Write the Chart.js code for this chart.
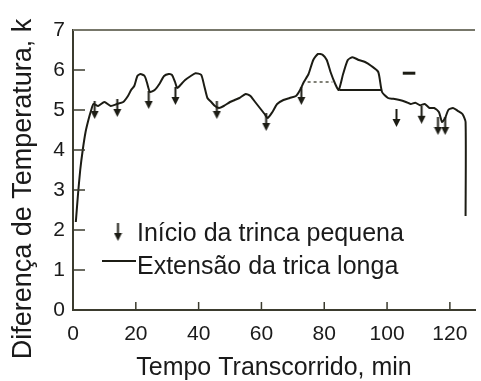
<!DOCTYPE html>
<html>
<head>
<meta charset="utf-8">
<title>Diferença de Temperatura</title>
<script src="https://cdn.jsdelivr.net/npm/chart.js@4.4.0/dist/chart.umd.min.js"></script>
<style>
  html, body { margin: 0; padding: 0; background: #fff; }
  canvas { display: block; }
</style>
</head>
<body>
<canvas id="myChart" width="481" height="381"></canvas>
<script>
// main temperature-difference trace (min, K)
var timeMin = [0.9, 1.6, 2.3, 3.1, 4.0, 4.9, 5.8, 6.5, 8, 10, 12, 14, 16, 17.5, 18.5, 19.5, 20.5, 21.5, 22.8, 23.5, 24.5,
    26, 27.5, 29, 30.5, 31.5, 32.5, 33.2, 34.5, 35.7, 37.5, 39, 40.8, 41.8, 42.8, 44, 45.2, 46.5, 48, 50, 51.5,
    53, 55, 56.5, 58, 59.5, 61, 62, 63.5, 65, 67, 69, 71, 72.3, 73.5, 75, 76.5, 78, 79.5, 80.8, 82,
    83.5, 84.6, 86, 87.5, 89, 91, 93, 95, 97.2, 98.4, 100.3, 102, 104, 106, 107.5, 109, 110.5, 112, 113.5, 115,
    116.5, 117.5, 118.5, 119.5, 121, 122.5, 124, 125, 125];
var tempDiff = [2.2, 2.9, 3.5, 4.0, 4.45, 4.75, 5.0, 5.15, 5.1, 5.2, 5.1, 5.15, 5.2, 5.35, 5.5, 5.6, 5.85, 5.9, 5.85, 5.7, 5.45,
    5.5, 5.65, 5.85, 5.9, 5.88, 5.7, 5.55, 5.65, 5.75, 5.85, 5.92, 5.88, 5.6, 5.3, 5.2, 5.1, 5.05, 5.1, 5.2, 5.25,
    5.3, 5.4, 5.35, 5.2, 5.05, 4.9, 4.8, 4.95, 5.15, 5.25, 5.3, 5.35, 5.5, 5.7, 5.9, 6.25, 6.4, 6.38, 6.25, 5.95,
    5.65, 5.5, 5.9, 6.25, 6.32, 6.25, 6.2, 6.1, 5.95, 5.45, 5.3, 5.28, 5.25, 5.2, 5.15, 5.18, 5.12, 5.15, 5.05, 5.05,
    4.95, 4.7, 4.8, 5.0, 5.05, 4.98, 4.9, 4.7, 2.35];

// short crack starts (arrows)
var crackTime = [6.9, 14.1, 24.1, 32.6, 45.8, 61.5, 72.7, 103, 111, 116.2, 118.5];
var crackTemp = [5.0, 5.05, 5.25, 5.35, 5.0, 4.7, 5.35, 4.8, 4.88, 4.6, 4.6];

// long crack extension plateaus
var dashedTime = [74.7, 82.6];
var dashedTemp = [5.7, 5.7];
var plateauTime = [84.8, 98.4];
var plateauTemp = [5.5, 5.5];
var markTime = [105, 109];
var markTemp = [5.92, 5.92];

var xTicks = [0, 20, 40, 60, 80, 100, 120];
var yTicks = [0, 1, 2, 3, 4, 5, 6, 7];

var xTitle = 'Tempo Transcorrido, min';
var yTitle = 'Diferença de Temperatura, k';
var legendLabels = ['Início da trinca pequena', 'Extensão da trica longa'];

function pairs(xs, ys) {
    return xs.map(function(x, i) { return { x: x, y: ys[i] }; });
}

// little downward arrow used as point style
function makeArrow() {
    var c = document.createElement('canvas');
    c.width = 9;
    c.height = 18;
    var g = c.getContext('2d');
    g.strokeStyle = '#1c1c14';
    g.fillStyle = '#1c1c14';
    g.lineWidth = 2;
    g.beginPath();
    g.moveTo(4.5, 0);
    g.lineTo(4.5, 11);
    g.stroke();
    g.beginPath();
    g.moveTo(0.5, 10);
    g.lineTo(8.5, 10);
    g.lineTo(4.5, 18);
    g.closePath();
    g.fill();
    return c;
}
var arrow = makeArrow();

var lineColor = '#1c1c14';
var axisColor = '#3b3b2e';

Chart.defaults.font.family = '"Liberation Sans", Arial, sans-serif';
Chart.defaults.color = '#1a1a1a';

var frameAndLegend = {
    id: 'frameAndLegend',
    afterDraw: function(chart) {
        var ctx = chart.ctx;
        var area = chart.chartArea;
        var xs = chart.scales.x;
        var ys = chart.scales.y;
        ctx.save();

        // top frame
        ctx.strokeStyle = '#77776a';
        ctx.lineWidth = 2;
        ctx.beginPath();
        ctx.moveTo(area.left, area.top);
        ctx.lineTo(area.right, area.top);
        ctx.stroke();

        // tick marks pointing into the plot
        ctx.strokeStyle = axisColor;
        ctx.lineWidth = 1.5;
        yTicks.forEach(function(v) {
            if (v === 0 || v === 7) return;
            var py = ys.getPixelForValue(v);
            ctx.beginPath();
            ctx.moveTo(area.left, py);
            ctx.lineTo(area.left + 12, py);
            ctx.stroke();
        });
        xTicks.forEach(function(v) {
            if (v === 0) return;
            var px = xs.getPixelForValue(v);
            ctx.beginPath();
            ctx.moveTo(px, area.bottom);
            ctx.lineTo(px, area.bottom - 8);
            ctx.stroke();
        });

        // y axis title
        ctx.save();
        ctx.translate(24, 189);
        ctx.rotate(-Math.PI / 2);
        ctx.font = '27px "Liberation Sans", Arial, sans-serif';
        ctx.fillStyle = '#1a1a1a';
        ctx.textAlign = 'center';
        ctx.textBaseline = 'middle';
        ctx.fillText(yTitle, 0, 0);
        ctx.restore();

        // legend inside the plot
        var lx = area.left + 64;
        ctx.font = '25px "Liberation Sans", Arial, sans-serif';
        ctx.fillStyle = '#1a1a1a';
        ctx.textAlign = 'left';
        ctx.textBaseline = 'alphabetic';
        ctx.drawImage(arrow, area.left + 45 - arrow.width / 2, 223);
        ctx.fillText(legendLabels[0], lx, 241);
        ctx.strokeStyle = lineColor;
        ctx.lineWidth = 2;
        ctx.beginPath();
        ctx.moveTo(area.left + 29, 261);
        ctx.lineTo(area.left + 63, 261);
        ctx.stroke();
        ctx.fillText(legendLabels[1], lx, 274);

        ctx.restore();
    }
};

var ctx = document.getElementById('myChart').getContext('2d');
var chart = new Chart(ctx, {
    type: 'line',
    data: {
        datasets: [
            {
                label: 'Diferença de Temperatura',
                data: pairs(timeMin, tempDiff),
                borderColor: lineColor,
                borderWidth: 2,
                pointRadius: 0,
                tension: 0.2
            },
            {
                label: 'tracejado',
                data: pairs(dashedTime, dashedTemp),
                borderColor: '#555548',
                borderWidth: 1.5,
                borderDash: [3, 3],
                pointRadius: 0
            },
            {
                label: legendLabels[1],
                data: pairs(plateauTime, plateauTemp),
                borderColor: lineColor,
                borderWidth: 2,
                pointRadius: 0
            },
            {
                label: 'marca',
                data: pairs(markTime, markTemp),
                borderColor: lineColor,
                borderWidth: 3,
                pointRadius: 0
            },
            {
                label: legendLabels[0],
                data: pairs(crackTime, crackTemp),
                showLine: false,
                pointStyle: arrow,
                pointRadius: 5
            }
        ]
    },
    options: {
        responsive: false,
        animation: false,
        layout: { padding: { top: 30, right: 0, bottom: 0, left: 0 } },
        plugins: {
            legend: { display: false },
            tooltip: { enabled: false }
        },
        scales: {
            x: {
                type: 'linear',
                min: 0,
                max: 128,
                afterFit: function(s) { s.height = 71; },
                afterBuildTicks: function(s) {
                    s.ticks = xTicks.map(function(v) { return { value: v }; });
                },
                grid: { display: false, drawTicks: false },
                border: { color: axisColor, width: 2 },
                ticks: { padding: 12, font: { size: 21 }, color: '#1a1a1a', maxRotation: 0 },
                title: {
                    display: true,
                    text: xTitle,
                    font: { size: 25, lineHeight: 1 },
                    padding: 0,
                    color: '#1a1a1a'
                }
            },
            y: {
                min: 0,
                max: 7,
                afterFit: function(s) { s.width = 73; },
                afterBuildTicks: function(s) {
                    s.ticks = yTicks.map(function(v) { return { value: v }; });
                },
                grid: { display: false, drawTicks: false },
                border: { color: axisColor, width: 2 },
                ticks: { padding: 8, font: { size: 21 }, color: '#1a1a1a' }
            }
        }
    },
    plugins: [frameAndLegend]
});
</script>
</body>
</html>
